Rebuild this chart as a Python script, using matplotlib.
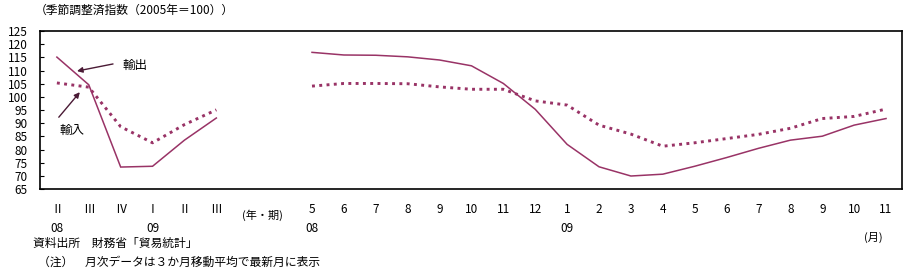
import matplotlib
matplotlib.use("Agg")
import matplotlib.pyplot as plt
import matplotlib.transforms as mtransforms

plt.rcParams['font.family'] = ['Noto Sans CJK JP', 'DejaVu Sans']

# ---- data ----
quarter_labels = ["Ⅱ", "Ⅲ", "Ⅳ", "Ⅰ", "Ⅱ", "Ⅲ"]
quarter_years = ["08", "", "", "09", "", ""]
month_labels = ["5", "6", "7", "8", "9", "10", "11", "12", "1", "2", "3", "4",
                "5", "6", "7", "8", "9", "10", "11"]
month_years = ["08", "", "", "", "", "", "", "", "09", "", "", "",
               "", "", "", "", "", "", ""]

export_q = [115.1, 104.6, 73.4, 73.7, 83.6, 92.0]
import_q = [105.3, 103.7, 88.7, 82.6, 89.5, 95.1]
export_m = [116.9, 115.9, 115.8, 115.2, 114.0, 111.8, 105.1, 95.3, 82.0, 73.5,
            70.0, 70.7, 73.7, 77.0, 80.5, 83.6, 85.1, 89.3, 91.8]
import_m = [104.1, 105.1, 105.1, 105.0, 103.8, 102.9, 102.9, 98.5, 96.9, 89.3,
            85.9, 81.3, 82.6, 84.2, 85.8, 88.1, 91.8, 92.6, 95.4]

yticks = list(range(65, 130, 5))

color = '#993366'

fig = plt.figure(figsize=(9.06, 2.70), dpi=100)
ax = fig.add_axes([40.3 / 906, 1 - 189.2 / 270, (902.3 - 40.3) / 906, (189.2 - 31) / 270])

nq = len(quarter_labels)
xq = list(range(nq))
month_start = nq + 2
xm = [month_start + i for i in range(len(month_labels))]

ax.plot(xq, export_q, color=color, lw=1.1, solid_joinstyle='miter')
ax.plot(xm, export_m, color=color, lw=1.1)
dot = (0, (1, 1.5))
ax.plot(xq, import_q, color=color, lw=2.1, linestyle=dot, dash_capstyle='butt')
ax.plot(xm, import_m, color=color, lw=2.1, linestyle=dot, dash_capstyle='butt')

ax.set_xlim(-0.52, xm[-1] + 0.51)
ax.set_ylim(65, 125)
ax.set_yticks(yticks)
ax.set_yticklabels([str(v) for v in yticks], fontsize=8.5)
ax.tick_params(axis='y', direction='in', length=3, width=0.8, pad=9, left=True, right=False)

xticks = xq + xm
xlabels = []
for lab, yr in zip(quarter_labels + month_labels, quarter_years + month_years):
    xlabels.append(lab + ("\n" + yr if yr else ""))
ax.set_xticks(xticks)
ax.set_xticklabels(xlabels, fontsize=8.5, linespacing=1.6)
ax.tick_params(axis='x', length=0, pad=10)

for s in ax.spines.values():
    s.set_linewidth(1.2)
    s.set_color('black')

# extra texts
trans = mtransforms.blended_transform_factory(ax.transData, fig.transFigure)
ax.text(6.43, 1 - 215 / 270, "(年・期)", transform=trans, ha='center', va='center', fontsize=8)
fig.text(873 / 906, 1 - 237 / 270, "(月)", ha='center', va='center', fontsize=8)
fig.text(35 / 906, 1 - 10 / 270, "（季節調整済指数（2005年＝100））", ha='left', va='center', fontsize=8.5)
fig.text(33 / 906, 1 - 243 / 270, "資料出所　財務省「貿易統計」", ha='left', va='center', fontsize=8.5)
fig.text(38 / 906, 1 - 262 / 270, "（注）　月次データは３か月移動平均で最新月に表示", ha='left', va='center', fontsize=8.5)

# annotations
arrowprops = dict(arrowstyle='-|>', color='#4a1a35', lw=1.0, mutation_scale=8, shrinkA=0, shrinkB=0)
ax.annotate("", xy=(0.63, 109.8), xytext=(1.76, 112.5), arrowprops=arrowprops)
ax.text(2.45, 112.1, "輸出", ha='center', va='center', fontsize=9)
ax.annotate("", xy=(0.72, 101.8), xytext=(0.06, 92.3), arrowprops=arrowprops)
ax.text(0.47, 87.4, "輸入", ha='center', va='center', fontsize=9)

fig.savefig("out.png", dpi=100)
